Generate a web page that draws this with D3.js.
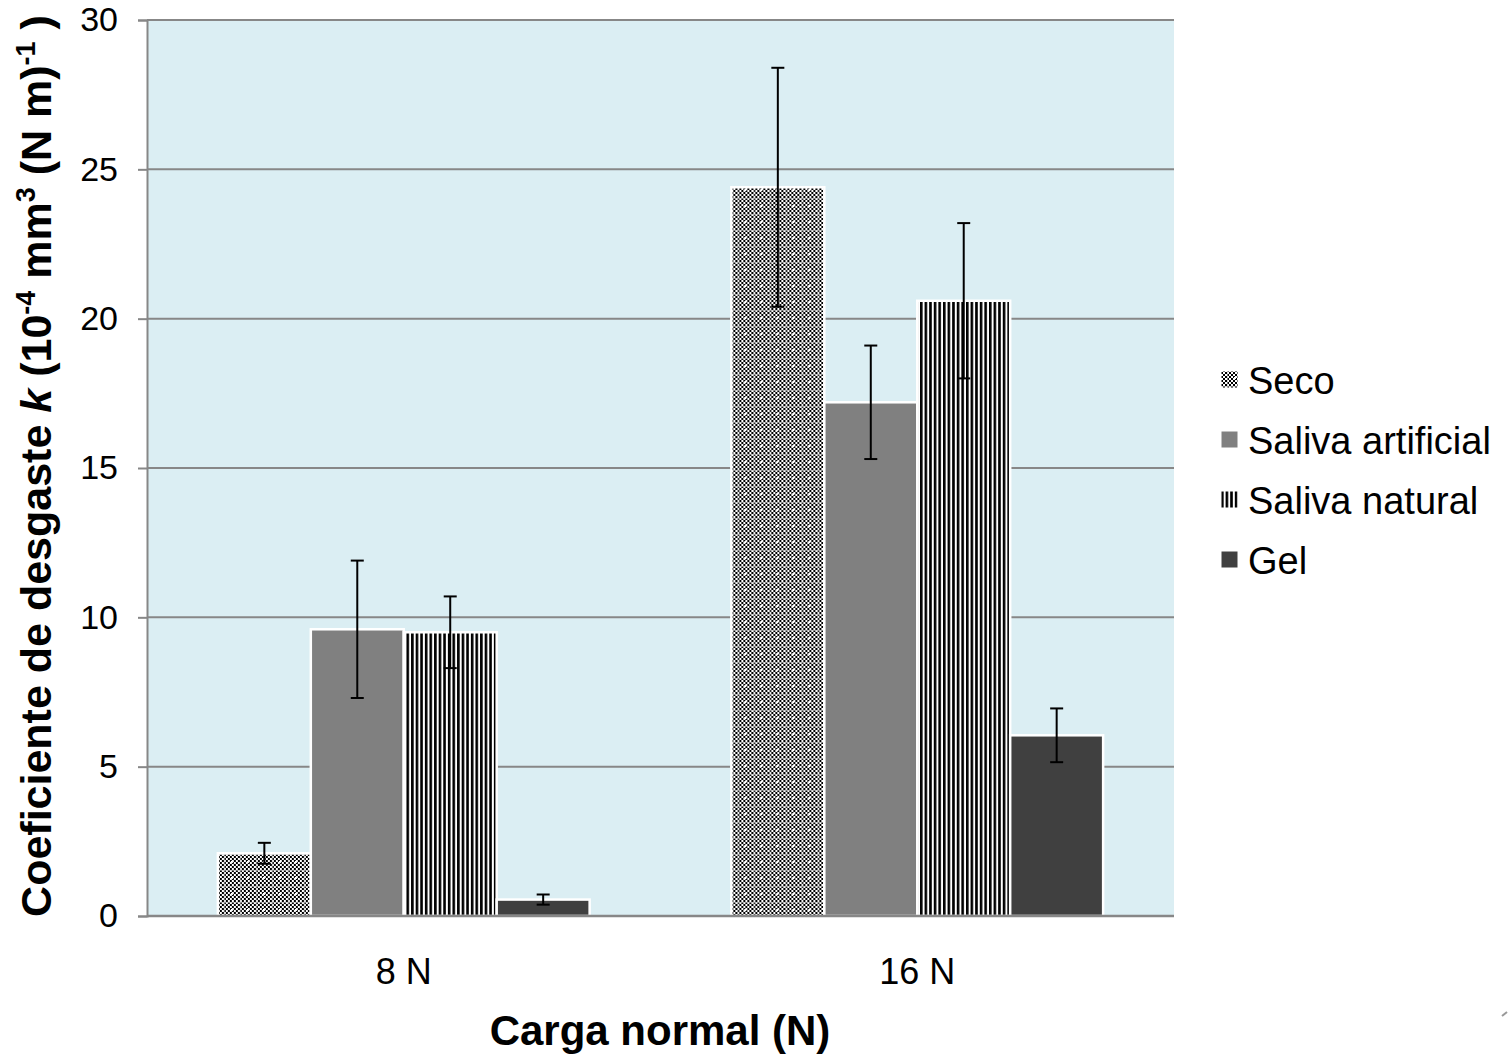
<!DOCTYPE html>
<html>
<head>
<meta charset="utf-8">
<script src="https://cdn.jsdelivr.net/npm/d3@7"></script>
<style>
body{margin:0;background:#fff;}
svg{display:block;font-family:Arial,"Liberation Sans",sans-serif;}
</style>
</head>
<body>
<svg id="chart" width="1508" height="1054"></svg>
<script>
const categories = ["8 N", "16 N"];
const seriesNames = ["Seco", "Saliva artificial", "Saliva natural", "Gel"];
const seco = [2.1, 24.4];
const salivaArtificial = [9.6, 17.2];
const salivaNatural = [9.5, 20.6];
const gel = [0.55, 6.05];
const errSeco = [0.35, 4.0];
const errSalivaArtificial = [2.3, 1.9];
const errSalivaNatural = [1.2, 2.6];
const errGel = [0.17, 0.9];
const yTicks = [0, 5, 10, 15, 20, 25, 30];

const values = [seco, salivaArtificial, salivaNatural, gel];
const errors = [errSeco, errSalivaArtificial, errSalivaNatural, errGel];

(function(){
const svg = d3.select("#chart");
const mLeft = 147, mRight = 1174, mTop = 20, mBottom = 916;

const defs = svg.append("defs");
// checker pattern for Seco
const pc = defs.append("pattern").attr("id","pSeco").attr("patternUnits","userSpaceOnUse")
  .attr("width",16).attr("height",16);
pc.append("rect").attr("width",16).attr("height",16).attr("fill","#fff");
for (let i=0;i<8;i++) for (let j=0;j<8;j++) {
  if ((i+j)%2===0) pc.append("rect").attr("x",i*2).attr("y",j*2).attr("width",2).attr("height",2).attr("fill","#000");
}
pc.append("rect").attr("x",6).attr("y",0).attr("width",1).attr("height",16).attr("fill","#bbb").attr("opacity",0.6);
pc.append("rect").attr("x",0).attr("y",6).attr("width",16).attr("height",1).attr("fill","#bbb").attr("opacity",0.6);
pc.append("rect").attr("x",13).attr("y",13).attr("width",2).attr("height",2).attr("fill","#fff");
// stripes for Saliva natural
const ps = defs.append("pattern").attr("id","pNat").attr("patternUnits","userSpaceOnUse")
  .attr("width",4.6).attr("height",10);
ps.append("rect").attr("width",4.6).attr("height",10).attr("fill","#fff");
ps.append("rect").attr("x",0).attr("width",2.6).attr("height",10).attr("fill","#000");

const fills = ["url(#pSeco)", "#808080", "url(#pNat)", "#404040"];

const y = d3.scaleLinear().domain([0,30]).range([mBottom, mTop]);
const x0 = d3.scaleBand().domain(categories).range([mLeft, mRight]).paddingInner(0.276).paddingOuter(0.138);
const x1 = d3.scaleBand().domain(seriesNames).range([0, x0.bandwidth()]);

// plot background
svg.append("rect").attr("x",mLeft).attr("y",mTop).attr("width",mRight-mLeft).attr("height",mBottom-mTop).attr("fill","#DBEEF3");

// gridlines
svg.append("g").selectAll("line").data(yTicks.filter(d=>d>0)).join("line")
  .attr("x1",mLeft).attr("x2",mRight).attr("y1",d=>y(d)).attr("y2",d=>y(d))
  .attr("stroke","#878787").attr("stroke-width",2);

// y axis
const yAxis = svg.append("g").attr("transform",`translate(${mLeft},0)`)
  .call(d3.axisLeft(y).tickValues(yTicks).tickSize(9).tickPadding(20));
yAxis.select(".domain").attr("stroke","#878787").attr("stroke-width",2);
yAxis.selectAll(".tick line").attr("stroke","#878787").attr("stroke-width",2);
yAxis.selectAll(".tick text").attr("font-size",34).attr("fill","#000").attr("font-family","Arial, 'Liberation Sans', sans-serif");

// bars
const groups = svg.append("g").selectAll("g").data(categories).join("g")
  .attr("transform", d=>`translate(${x0(d)},0)`);
groups.selectAll("rect").data((c,ci)=>seriesNames.map((s,si)=>({s,si,v:values[si][ci],e:errors[si][ci]})))
  .join("rect")
  .attr("x",d=>x1(d.s)).attr("width",x1.bandwidth())
  .attr("y",d=>y(d.v)).attr("height",d=>y(0)-y(d.v))
  .attr("fill",d=>fills[d.si]).attr("stroke","#fff").attr("stroke-width",2.5);

// x axis line
svg.append("line").attr("x1",mLeft).attr("x2",mRight).attr("y1",mBottom).attr("y2",mBottom)
  .attr("stroke","#878787").attr("stroke-width",2.5);

// error bars
const eb = groups.selectAll("g.err").data((c,ci)=>seriesNames.map((s,si)=>({s,si,v:values[si][ci],e:errors[si][ci]})))
  .join("g").attr("class","err");
eb.append("line").attr("x1",d=>x1(d.s)+x1.bandwidth()/2).attr("x2",d=>x1(d.s)+x1.bandwidth()/2)
  .attr("y1",d=>y(d.v+d.e)).attr("y2",d=>y(d.v-d.e)).attr("stroke","#000").attr("stroke-width",2);
eb.append("line").attr("x1",d=>x1(d.s)+x1.bandwidth()/2-6.5).attr("x2",d=>x1(d.s)+x1.bandwidth()/2+6.5)
  .attr("y1",d=>y(d.v+d.e)).attr("y2",d=>y(d.v+d.e)).attr("stroke","#000").attr("stroke-width",2);
eb.append("line").attr("x1",d=>x1(d.s)+x1.bandwidth()/2-6.5).attr("x2",d=>x1(d.s)+x1.bandwidth()/2+6.5)
  .attr("y1",d=>y(d.v-d.e)).attr("y2",d=>y(d.v-d.e)).attr("stroke","#000").attr("stroke-width",2);

// category labels
svg.append("g").selectAll("text").data(categories).join("text")
  .attr("x",d=>x0(d)+x0.bandwidth()/2).attr("y",984).attr("text-anchor","middle")
  .attr("font-size",36).text(d=>d);

// x title
svg.append("text").attr("x",660).attr("y",1045).attr("text-anchor","middle")
  .attr("font-size",42).attr("font-weight","bold").text("Carga normal (N)");

// y title
const yt = svg.append("text").attr("transform","translate(51,466) rotate(-90)").attr("text-anchor","middle")
  .attr("font-size",43).attr("font-weight","bold");
yt.append("tspan").text("Coeficiente de desgaste ");
yt.append("tspan").attr("font-style","italic").text("k");
yt.append("tspan").text(" (10");
yt.append("tspan").attr("font-size",27).attr("dy",-16).text("-4");
yt.append("tspan").attr("dy",16).text("  mm");
yt.append("tspan").attr("font-size",27).attr("dy",-16).text("3");
yt.append("tspan").attr("dy",16).text(" (N m)");
yt.append("tspan").attr("font-size",27).attr("dy",-16).text("-1");
yt.append("tspan").attr("dy",16).text(" )");

// legend
const lg = svg.append("g").selectAll("g").data(seriesNames).join("g")
  .attr("transform",(d,i)=>`translate(1221,${380+i*60})`);
lg.append("rect").attr("x",0).attr("y",-9).attr("width",17).attr("height",17)
  .attr("fill",(d,i)=>fills[i]).attr("stroke","#fff").attr("stroke-width",1);
lg.append("text").attr("x",27).attr("y",14).attr("font-size",38).text(d=>d);

// small page mark
svg.append("line").attr("x1",1502).attr("y1",1016).attr("x2",1507).attr("y2",1012).attr("stroke","#999").attr("stroke-width",2);
})();
</script>
</body>
</html>
